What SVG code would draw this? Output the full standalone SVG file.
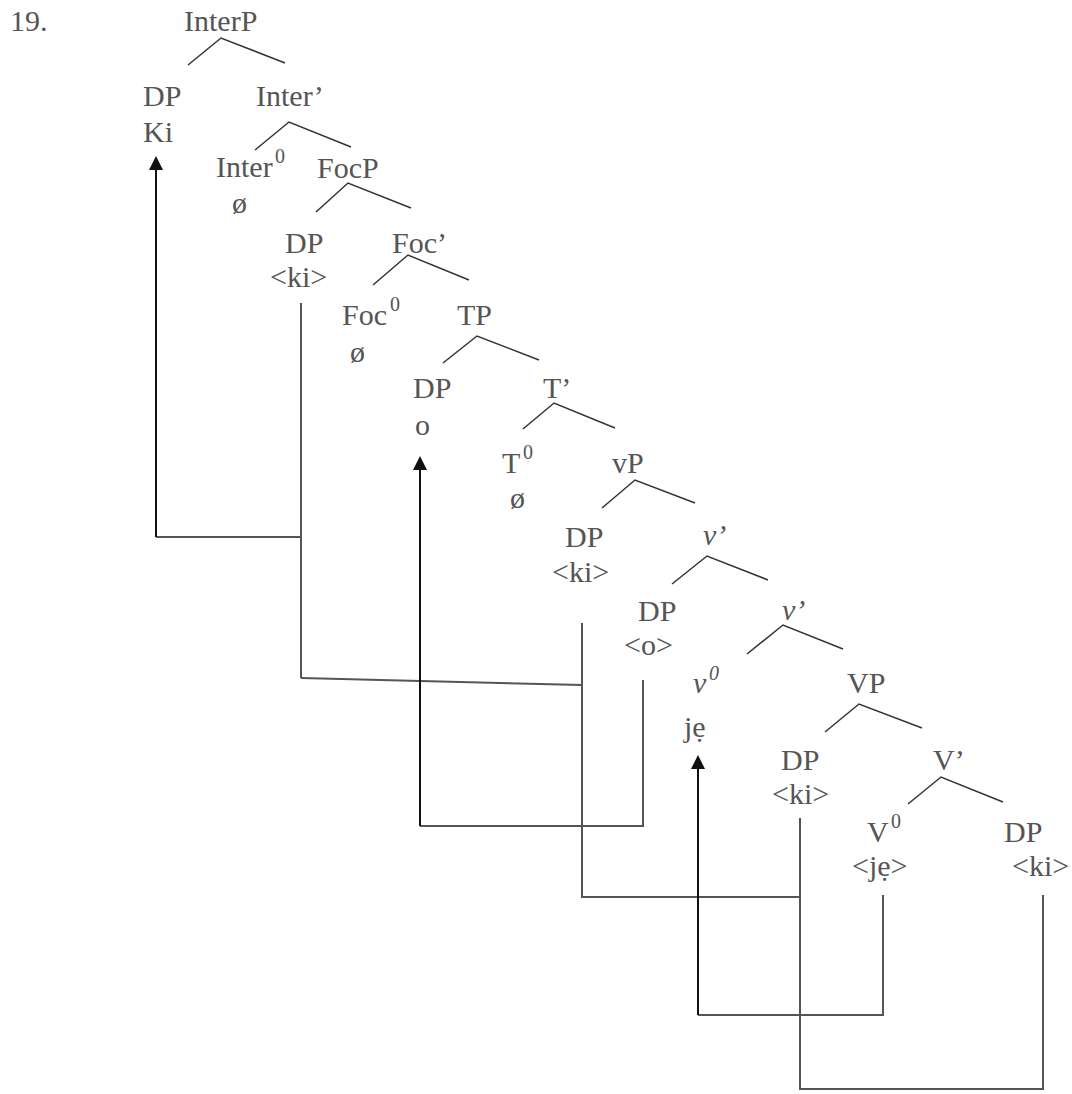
<svg xmlns="http://www.w3.org/2000/svg" width="1072" height="1094" viewBox="0 0 1072 1094">
  <style>
    text { font-family: "Liberation Serif", "Times New Roman", serif; font-size: 30px; fill: #555; }
    .sup { font-size: 20px; }
    .it { font-style: italic; }
    .branch { fill: none; stroke: #333; stroke-width: 1.5; }
    .link { fill: none; stroke: #555; stroke-width: 2; }
    .move { fill: none; stroke: #111; stroke-width: 2; }
    .head { fill: #111; }
  </style>
  <defs>
    <polygon id="arrowhead" class="head" points="0,0 -7,14 7,14"/>
  </defs>
  <rect width="1072" height="1094" fill="#fff"/>

  <text x="10" y="31">19.</text>

  <!-- tree nodes -->
  <g id="n-InterP"><text x="184" y="31">InterP</text><polyline class="branch" points="188,65 221,38 285,63"/></g>
  <g id="n-DP-Ki"><text x="143" y="106">DP</text><text x="143" y="142">Ki</text></g>
  <g id="n-Inter1"><text x="256" y="106">Inter’</text><polyline class="branch" points="255,150 289,122 351,147"/></g>
  <g id="n-Inter0"><text x="216" y="177">Inter</text><text class="sup" x="275" y="163">0</text><text x="232" y="213">ø</text></g>
  <g id="n-FocP"><text x="317" y="178">FocP</text><polyline class="branch" points="316,212 348,183 411,208"/></g>
  <g id="n-DP-ki1"><text x="285" y="253">DP</text><text x="270" y="287">&lt;ki&gt;</text></g>
  <g id="n-Foc1"><text x="392" y="253">Foc’</text><polyline class="branch" points="373,285 408,255 469,280"/></g>
  <g id="n-Foc0"><text x="342" y="325">Foc</text><text class="sup" x="390" y="311">0</text><text x="350" y="362">ø</text></g>
  <g id="n-TP"><text x="457" y="325">TP</text><polyline class="branch" points="443,363 477,336 539,360"/></g>
  <g id="n-DP-o"><text x="413" y="398">DP</text><text x="415" y="435">o</text></g>
  <g id="n-T1"><text x="543" y="398">T’</text><polyline class="branch" points="523,429 554,403 615,428"/></g>
  <g id="n-T0"><text x="502" y="473">T</text><text class="sup" x="523" y="459">0</text><text x="510" y="508">ø</text></g>
  <g id="n-vP"><text x="612" y="473">vP</text><polyline class="branch" points="602,508 635,480 695,503"/></g>
  <g id="n-DP-ki2"><text x="565" y="547">DP</text><text x="552" y="582">&lt;ki&gt;</text></g>
  <g id="n-v1a"><text class="it" x="703" y="545">v’</text><polyline class="branch" points="672,584 707,556 768,580"/></g>
  <g id="n-DP-o2"><text x="638" y="621">DP</text><text x="624" y="655">&lt;o&gt;</text></g>
  <g id="n-v1b"><text class="it" x="782" y="620">v’</text><polyline class="branch" points="747,654 783,625 843,649"/></g>
  <g id="n-v0"><text class="it" x="693" y="693">v</text><text class="sup it" x="709" y="680">0</text><text x="684" y="737">jẹ</text></g>
  <g id="n-VP"><text x="847" y="693">VP</text><polyline class="branch" points="825,732 859,704 922,728"/></g>
  <g id="n-DP-ki3"><text x="781" y="770">DP</text><text x="772" y="804">&lt;ki&gt;</text></g>
  <g id="n-V1"><text x="933" y="770">V’</text><polyline class="branch" points="908,804 941,777 1003,802"/></g>
  <g id="n-V0"><text x="867" y="842">V</text><text class="sup" x="891" y="828">0</text><text x="852" y="876">&lt;jẹ&gt;</text></g>
  <g id="n-DP-ki4"><text x="1004" y="842">DP</text><text x="1012" y="876">&lt;ki&gt;</text></g>

  <!-- movement paths -->
  <g id="connectors">
    <!-- wh-chain: ki -->
    <polyline class="link" points="1043,895 1043,1089 800,1089 800,818"/>
    <polyline class="link" points="800,897 582,897 582,623"/>
    <polyline class="link" points="582,685 301,678"/>
    <polyline class="link" points="301,303 301,678"/>
    <polyline class="link" points="301,537 156,537"/>
    <line class="move" x1="156" y1="537" x2="156" y2="168"/>
    <use href="#arrowhead" x="156" y="156"/>
    <!-- subject chain: o -->
    <polyline class="link" points="643,680 643,826 420,826"/>
    <line class="move" x1="420" y1="826" x2="420" y2="468"/>
    <use href="#arrowhead" x="420" y="456"/>
    <!-- verb chain: jẹ -->
    <polyline class="link" points="883,895 883,1015 698,1015"/>
    <line class="move" x1="698" y1="1015" x2="698" y2="767"/>
    <use href="#arrowhead" x="698" y="755"/>
  </g>
</svg>
